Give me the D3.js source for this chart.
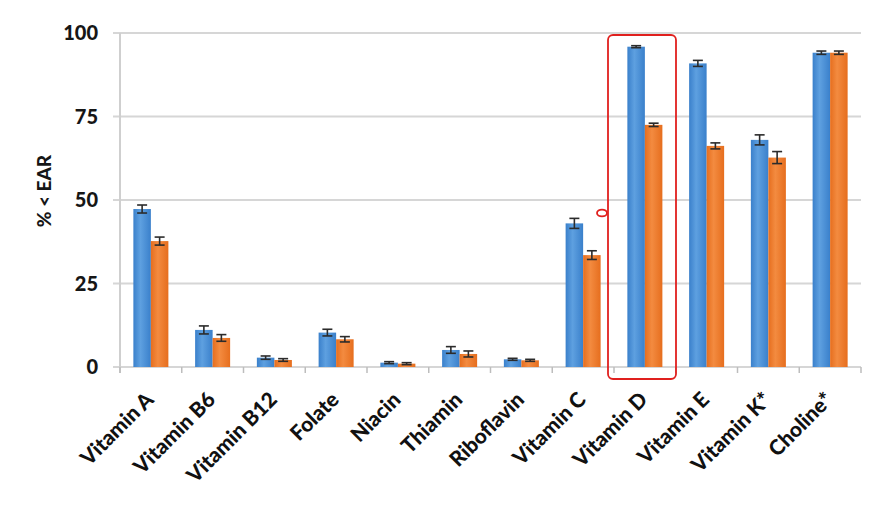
<!DOCTYPE html>
<html><head><meta charset="utf-8">
<script src="https://cdn.jsdelivr.net/npm/d3@7"></script>
<style>html,body{margin:0;padding:0;background:#fff}svg{display:block}</style>
</head><body><svg id="c" width="874" height="509"></svg>
<script>
const categories = ["Vitamin A","Vitamin B6","Vitamin B12","Folate","Niacin","Thiamin","Riboflavin","Vitamin C","Vitamin D","Vitamin E","Vitamin K*","Choline*"];
const seriesNames = ["Series 1","Series 2"];
const series1 = [47.3, 11.1, 2.8, 10.3, 1.3, 5.1, 2.3, 43.0, 95.9, 90.9, 68.0, 94.1];
const series2 = [37.7, 8.7, 2.1, 8.3, 1.0, 3.9, 2.0, 33.5, 72.5, 66.2, 62.7, 94.1];
const err1 = [1.2, 1.2, 0.5, 1.0, 0.3, 1.0, 0.3, 1.5, 0.3, 0.9, 1.5, 0.5];
const err2 = [1.2, 1.0, 0.4, 0.8, 0.3, 0.9, 0.3, 1.3, 0.5, 0.9, 1.8, 0.5];
const yTicks = [0, 25, 50, 75, 100];

const svg = d3.select("#c");
const L = 120, R = 861, T = 33, B = 367;
const FONT = "Lato, 'Open Sans', sans-serif";
const y = d3.scaleLinear().domain([0,100]).range([B,T]);
const x0 = d3.scaleBand().domain(categories).range([L,R]).padding(0);
const x1 = d3.scaleBand().domain(seriesNames).range([0,x0.bandwidth()]).paddingInner(0).paddingOuter(0.764);

const defs = svg.append("defs");
function grad(id, edge, mid){
  const g = defs.append("linearGradient").attr("id",id).attr("x1","0").attr("x2","1").attr("y1","0").attr("y2","0");
  g.append("stop").attr("offset","0%").attr("stop-color",edge);
  g.append("stop").attr("offset","40%").attr("stop-color",mid);
  g.append("stop").attr("offset","100%").attr("stop-color",edge);
}
grad("gb","#3a80cb","#5ea0e0");
grad("go","#e66e1e","#f38b40");
const fills = ["url(#gb)","url(#go)"];

// gridlines
svg.append("g").selectAll("line").data(yTicks).join("line")
  .attr("x1",L-7).attr("x2",R).attr("y1",d=>y(d)).attr("y2",d=>y(d))
  .attr("stroke","#d6d6d6").attr("stroke-width",2);
// y axis line
svg.append("line").attr("x1",L).attr("x2",L).attr("y1",T).attr("y2",B+6).attr("stroke","#cfcfcf").attr("stroke-width",2);
// x tick marks
svg.append("g").selectAll("line").data(categories.concat(["__end"])).join("line")
  .attr("x1",(d,i)=>L+i*x0.step()).attr("x2",(d,i)=>L+i*x0.step())
  .attr("y1",B).attr("y2",B+6).attr("stroke","#bdbdbd").attr("stroke-width",1.5);

// y tick labels
svg.append("g").selectAll("text").data(yTicks).join("text")
  .attr("x",98).attr("y",d=>y(d)).attr("dy","0.35em").attr("text-anchor","end")
  .attr("font-family",FONT).attr("font-weight",900).attr("font-size",20).attr("fill","#161616")
  .text(d=>d);
// y title
svg.append("text").attr("transform","translate(51,191) rotate(-90)").attr("text-anchor","middle")
  .attr("font-family",FONT).attr("font-weight",900).attr("font-size",19).attr("fill","#161616")
  .text("% < EAR");

// bars
const data = categories.map((c,i)=>({c, vals:[{s:0,v:series1[i],e:err1[i]},{s:1,v:series2[i],e:err2[i]}]}));
const g = svg.append("g").selectAll("g").data(data).join("g").attr("transform",d=>`translate(${x0(d.c)},0)`);
g.selectAll("rect").data(d=>d.vals).join("rect")
  .attr("x",d=>x1(seriesNames[d.s])).attr("width",x1.bandwidth())
  .attr("y",d=>y(d.v)).attr("height",d=>y(0)-y(d.v)).attr("fill",d=>fills[d.s]);
// error bars
const eb = g.selectAll("g.eb").data(d=>d.vals).join("g").attr("class","eb");
eb.append("line").attr("x1",d=>x1(seriesNames[d.s])+x1.bandwidth()/2).attr("x2",d=>x1(seriesNames[d.s])+x1.bandwidth()/2)
  .attr("y1",d=>y(d.v-d.e)).attr("y2",d=>y(d.v+d.e)).attr("stroke","#2b2b2b").attr("stroke-width",1.6);
eb.selectAll("line.cap").data(d=>[{d,t:d.v-d.e},{d,t:d.v+d.e}]).join("line").attr("class","cap")
  .attr("x1",k=>x1(seriesNames[k.d.s])+x1.bandwidth()/2-5).attr("x2",k=>x1(seriesNames[k.d.s])+x1.bandwidth()/2+5)
  .attr("y1",k=>y(k.t)).attr("y2",k=>y(k.t)).attr("stroke","#2b2b2b").attr("stroke-width",1.6);

// x labels
svg.append("g").selectAll("text").data(categories).join("text")
  .attr("transform",d=>`translate(${x0(d)+x0.bandwidth()/2+4},${B+34}) rotate(-45)`)
  .attr("text-anchor","end")
  .attr("font-family",FONT).attr("font-weight",900).attr("font-size",21).attr("fill","#111")
  .text(d=>d);

// red highlight box around Vitamin D
const dI = categories.indexOf("Vitamin D");
svg.append("rect").attr("x",x0(categories[dI])-6).attr("y",35).attr("width",68).attr("height",344)
  .attr("rx",5).attr("fill","none").attr("stroke","#e0201e").attr("stroke-width",1.8);
svg.append("ellipse").attr("cx",602).attr("cy",213).attr("rx",5).attr("ry",3.4)
  .attr("fill","none").attr("stroke","#e0201e").attr("stroke-width",1.8);
</script></body></html>
